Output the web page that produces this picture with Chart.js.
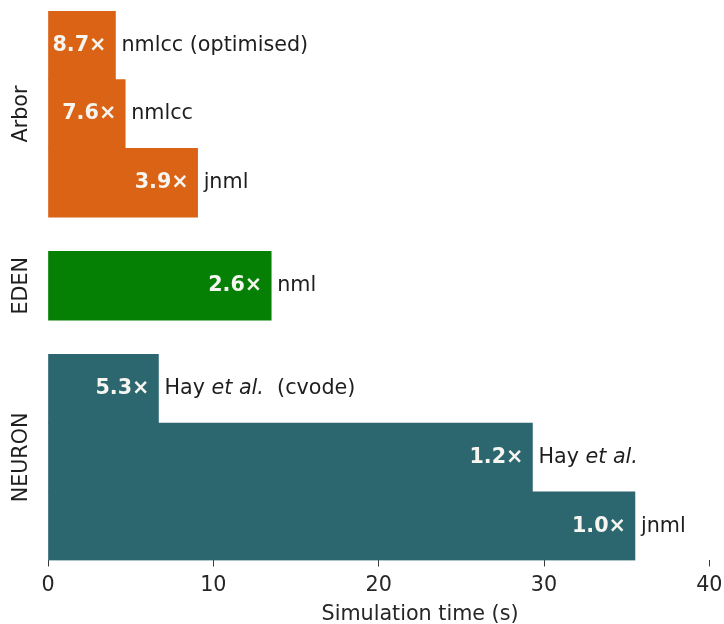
<!DOCTYPE html>
<html>
<head>
<meta charset="utf-8">
<script src="https://cdn.jsdelivr.net/npm/chart.js@4.4.1/dist/chart.umd.min.js"></script>
<style>
  html, body { margin: 0; padding: 0; background: #ffffff; overflow: hidden; }
  #wrap { width: 800px; height: 644px; }
</style>
</head>
<body>
<div id="wrap"><canvas id="chart"></canvas></div>
<script>
// Simulators and the runs benchmarked on each
const groups = ['Arbor', 'EDEN', 'NEURON'];
const groupColors = ['#da6315', '#058005', '#2c6770'];
const runLabels = ['nmlcc (optimised)', 'nmlcc', 'jnml', 'nml', 'Hay et al. (cvode)', 'Hay et al.', 'jnml'];
const runGroup = [0, 0, 0, 1, 2, 2, 2];
// Wall-clock simulation time in seconds
const simTime = [4.08, 4.67, 9.05, 13.5, 6.68, 29.3, 35.5];
// Speed-ups are relative to the NEURON / jnml run
const baselineRun = 6;
const xTicks = [0, 10, 20, 30, 40];

const GROUP_GAP = 0.5;
const FONT = '"DejaVu Sans", sans-serif';
const FS = 20.7;

// Lay out rows: one unit per run, half a unit between simulators
const rowPos = [];
const groupCenter = [];
let cursor = 0;
groups.forEach((g, gi) => {
  const start = cursor;
  runGroup.forEach((grp, i) => {
    if (grp === gi) { rowPos[i] = cursor + 0.5; cursor += 1; }
  });
  groupCenter[gi] = (start + cursor) / 2;
  cursor += GROUP_GAP;
});
const rowCount = cursor - GROUP_GAP;

const points = simTime.map((t, i) => ({ x: t, y: rowPos[i] }));
const barColors = runGroup.map(g => groupColors[g]);

// Draws speed-up factors inside the bars, run names beside them and simulator names on the left
const annotate = {
  id: 'annotate',
  afterDatasetsDraw(chart) {
    const ctx = chart.ctx;
    const meta = chart.getDatasetMeta(0);
    const base = simTime[baselineRun];
    ctx.save();
    ctx.textBaseline = 'middle';
    meta.data.forEach((bar, i) => {
      const speed = (base / simTime[i]).toFixed(1) + '\u00d7';
      ctx.font = 'bold ' + FS + 'px ' + FONT;
      ctx.fillStyle = '#f7f5f0';
      ctx.textAlign = 'right';
      ctx.fillText(speed, bar.x - 9, bar.y);

      // run name, with "et al." set in italics
      ctx.textAlign = 'left';
      ctx.fillStyle = '#1e1e1e';
      let x = bar.x + 6;
      const parts = runLabels[i].split(/(et al\.)/);
      parts.forEach(p => {
        if (!p) return;
        const italic = p === 'et al.';
        ctx.font = (italic ? 'italic ' : '') + FS + 'px ' + FONT;
        const txt = (!italic && parts.indexOf('et al.') >= 0 && p.startsWith(' (')) ? '  ' + p.trimStart() : p;
        ctx.fillText(txt, x, bar.y);
        x += ctx.measureText(txt).width;
      });
    });

    const yScale = chart.scales.y;
    ctx.font = FS + 'px ' + FONT;
    ctx.fillStyle = '#1e1e1e';
    ctx.textAlign = 'center';
    groups.forEach((g, gi) => {
      const y = yScale.getPixelForValue(groupCenter[gi]);
      ctx.save();
      ctx.translate(22, y);
      ctx.rotate(-Math.PI / 2);
      ctx.fillText(g, 0, 0);
      ctx.restore();
    });
    ctx.restore();
  }
};

new Chart(document.getElementById('chart'), {
  type: 'bar',
  data: {
    datasets: [{
      data: points,
      backgroundColor: barColors,
      borderWidth: 0,
      barPercentage: 1,
      categoryPercentage: 1
    }]
  },
  options: {
    indexAxis: 'y',
    responsive: true,
    maintainAspectRatio: false,
    animation: false,
    devicePixelRatio: 1,
    layout: { padding: { left: 48, right: 8, top: 11, bottom: 14 } },
    plugins: { legend: { display: false }, tooltip: { enabled: false } },
    scales: {
      y: {
        type: 'linear',
        display: false,
        reverse: true,
        offset: false,
        grid: { offset: false },
        min: 0,
        max: rowCount,
        afterBuildTicks(scale) {
          scale.ticks = groupCenter.map(v => ({ value: v }));
        }
      },
      x: {
        type: 'linear',
        min: 0,
        max: 45,
        afterBuildTicks(scale) {
          scale.ticks = xTicks.map(v => ({ value: v }));
        },
        border: { display: false },
        grid: {
          display: true,
          drawOnChartArea: false,
          drawTicks: true,
          tickLength: 6,
          color: '#3a3a3a',
          lineWidth: 1
        },
        ticks: {
          color: '#262626',
          font: { family: FONT, size: FS, lineHeight: 1 },
          padding: 9,
          maxRotation: 0
        },
        title: {
          display: true,
          text: 'Simulation time (s)',
          color: '#262626',
          font: { family: FONT, size: FS },
          padding: { top: -3, bottom: 3 }
        }
      }
    }
  },
  plugins: [annotate]
});
</script>
</body>
</html>
